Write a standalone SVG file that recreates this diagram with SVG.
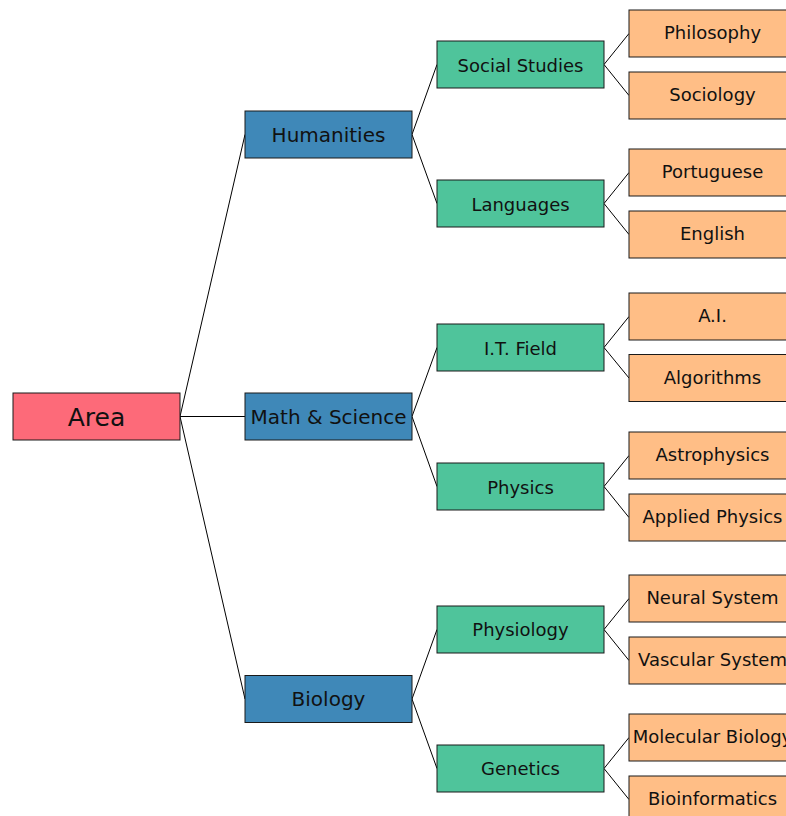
<svg xmlns="http://www.w3.org/2000/svg" width="786" height="816" viewBox="0 0 786 816">
  <style>
    .box { stroke: #1a1a1a; stroke-width: 1; }
    .root { fill: #fd6a79; }
    .l1 { fill: #3f88b8; }
    .l2 { fill: #4fc49b; }
    .l3 { fill: #ffbe86; }
    text { font-family: "DejaVu Sans", sans-serif; fill: #111; text-anchor: middle; }
    .t0 { font-size: 25px; }
    .t1 { font-size: 20px; }
    .t2 { font-size: 18px; }
    #edges line { stroke: #000; stroke-width: 1; }
  </style>
  <rect width="786" height="816" fill="#ffffff"/>

  <g id="edges">
    <!-- root to level 1 -->
    <line x1="180" y1="416.5" x2="245" y2="134.5"/>
    <line x1="180" y1="416.5" x2="245" y2="416.5"/>
    <line x1="180" y1="416.5" x2="245" y2="699"/>
    <!-- level 1 to level 2 -->
    <line x1="412" y1="134.5" x2="437" y2="64.5"/>
    <line x1="412" y1="134.5" x2="437" y2="203.5"/>
    <line x1="412" y1="416.5" x2="437" y2="347.5"/>
    <line x1="412" y1="416.5" x2="437" y2="486.5"/>
    <line x1="412" y1="699" x2="437" y2="629.5"/>
    <line x1="412" y1="699" x2="437" y2="768.5"/>
    <!-- level 2 to leaves -->
    <line x1="604" y1="64.5" x2="629" y2="33.5"/>
    <line x1="604" y1="64.5" x2="629" y2="95.5"/>
    <line x1="604" y1="203.5" x2="629" y2="172.5"/>
    <line x1="604" y1="203.5" x2="629" y2="234.5"/>
    <line x1="604" y1="347.5" x2="629" y2="316.5"/>
    <line x1="604" y1="347.5" x2="629" y2="378"/>
    <line x1="604" y1="486.5" x2="629" y2="455.5"/>
    <line x1="604" y1="486.5" x2="629" y2="517.5"/>
    <line x1="604" y1="629.5" x2="629" y2="598.5"/>
    <line x1="604" y1="629.5" x2="629" y2="660.5"/>
    <line x1="604" y1="768.5" x2="629" y2="737.5"/>
    <line x1="604" y1="768.5" x2="629" y2="799.5"/>
  </g>

  <g id="area"><rect class="box root" x="13" y="393" width="167" height="47"/><text class="t0" x="96.5" y="426">Area</text></g>

  <g id="humanities"><rect class="box l1" x="245" y="111" width="167" height="47"/><text class="t1" x="328.5" y="141.8">Humanities</text></g>
  <g id="math-science"><rect class="box l1" x="245" y="393" width="167" height="47"/><text class="t1" x="328.5" y="423.8">Math &amp; Science</text></g>
  <g id="biology"><rect class="box l1" x="245" y="675.5" width="167" height="47"/><text class="t1" x="328.5" y="705.5">Biology</text></g>

  <g id="social-studies"><rect class="box l2" x="437" y="41" width="167" height="47"/><text class="t2" x="520.5" y="71.5">Social Studies</text></g>
  <g id="languages"><rect class="box l2" x="437" y="180" width="167" height="47"/><text class="t2" x="520.5" y="210.5">Languages</text></g>
  <g id="it-field"><rect class="box l2" x="437" y="324" width="167" height="47"/><text class="t2" x="520.5" y="354.5">I.T. Field</text></g>
  <g id="physics"><rect class="box l2" x="437" y="463" width="167" height="47"/><text class="t2" x="520.5" y="493.5">Physics</text></g>
  <g id="physiology"><rect class="box l2" x="437" y="606" width="167" height="47"/><text class="t2" x="520.5" y="636">Physiology</text></g>
  <g id="genetics"><rect class="box l2" x="437" y="745" width="167" height="47"/><text class="t2" x="520.5" y="775">Genetics</text></g>

  <g id="philosophy"><rect class="box l3" x="629" y="10" width="167" height="47"/><text class="t2" x="712.5" y="39">Philosophy</text></g>
  <g id="sociology"><rect class="box l3" x="629" y="72" width="167" height="47"/><text class="t2" x="712.5" y="101">Sociology</text></g>
  <g id="portuguese"><rect class="box l3" x="629" y="149" width="167" height="47"/><text class="t2" x="712.5" y="178">Portuguese</text></g>
  <g id="english"><rect class="box l3" x="629" y="211" width="167" height="47"/><text class="t2" x="712.5" y="240">English</text></g>
  <g id="ai"><rect class="box l3" x="629" y="293" width="167" height="47"/><text class="t2" x="712.5" y="322">A.I.</text></g>
  <g id="algorithms"><rect class="box l3" x="629" y="354.5" width="167" height="47"/><text class="t2" x="712.5" y="383.5">Algorithms</text></g>
  <g id="astrophysics"><rect class="box l3" x="629" y="432" width="167" height="47"/><text class="t2" x="712.5" y="461">Astrophysics</text></g>
  <g id="applied-physics"><rect class="box l3" x="629" y="494" width="167" height="47"/><text class="t2" x="712.5" y="523">Applied Physics</text></g>
  <g id="neural-system"><rect class="box l3" x="629" y="575" width="167" height="47"/><text class="t2" x="712.5" y="604">Neural System</text></g>
  <g id="vascular-system"><rect class="box l3" x="629" y="637" width="167" height="47"/><text class="t2" x="712.5" y="666">Vascular System</text></g>
  <g id="molecular-biology"><rect class="box l3" x="629" y="714" width="167" height="47"/><text class="t2" x="712.5" y="743">Molecular Biology</text></g>
  <g id="bioinformatics"><rect class="box l3" x="629" y="776" width="167" height="47"/><text class="t2" x="712.5" y="805">Bioinformatics</text></g>
</svg>
